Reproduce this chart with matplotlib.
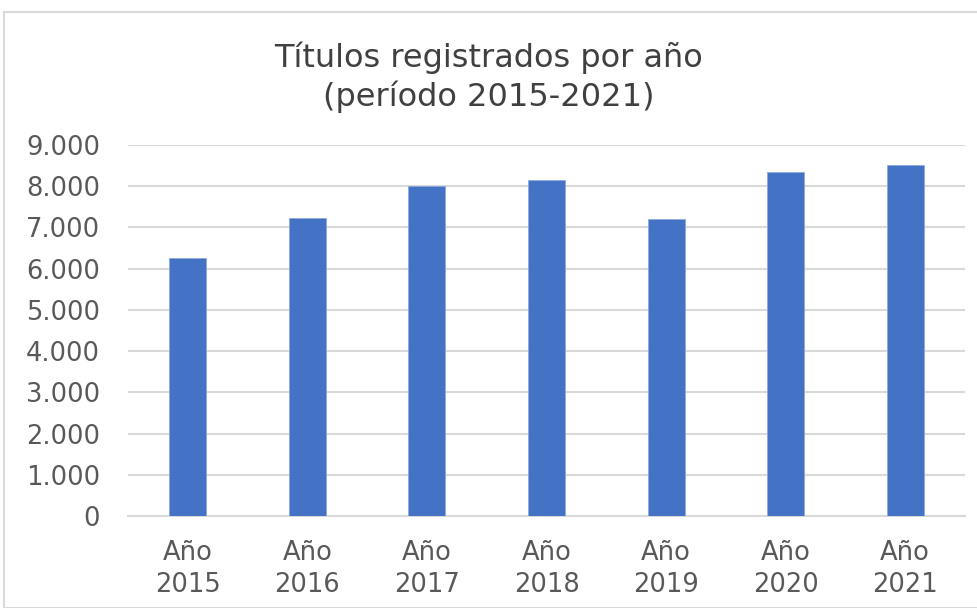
import matplotlib.pyplot as plt
from matplotlib.patches import Rectangle
from matplotlib.ticker import FuncFormatter

years = ['2015', '2016', '2017', '2018', '2019', '2020', '2021']
titulos = [6265, 7230, 8005, 8160, 7195, 8345, 8525]
labels = ['Año\n' + y for y in years]

fig = plt.figure(figsize=(9.78, 6.08), dpi=100)
ax = fig.add_axes([128 / 978, 1 - 516 / 608, (965 - 128) / 978, (516 - 145) / 608])

# marco gris alrededor del gráfico
fig.patches.append(Rectangle((4 / 978, 0), 1, 1 - 12 / 608, transform=fig.transFigure,
                             fill=False, edgecolor='#D9D9D9', lw=1.5))

x = range(len(years))
ax.bar(x, titulos, width=0.31, color='#4472C4', edgecolor='#8FAADC', lw=0.6, zorder=3)

ax.set_ylim(0, 9000)
ax.set_xlim(-0.5, len(years) - 0.5)
ax.set_yticks(range(0, 9001, 1000))
ax.yaxis.set_major_formatter(FuncFormatter(lambda v, p: f'{int(v):,}'.replace(',', '.')))
ax.set_xticks(list(x))
ax.set_xticklabels(labels, linespacing=1.3, fontsize=18.5)

ax.grid(axis='y', color='#D9D9D9', lw=1.5, zorder=0)
for s in ['top', 'right', 'left']:
    ax.spines[s].set_visible(False)
ax.spines['bottom'].set_color('#D9D9D9')
ax.spines['bottom'].set_linewidth(1.5)
ax.tick_params(length=0, labelsize=18.5, labelcolor='#595959')
ax.tick_params(axis='y', pad=20)
ax.tick_params(axis='x', pad=17)

fig.text(0.5, 1 - 77 / 608, 'Títulos registrados por año\n(período 2015-2021)',
         ha='center', va='center', fontsize=23, color='#404040', linespacing=1.25)

fig.savefig('out.png', dpi=100)
